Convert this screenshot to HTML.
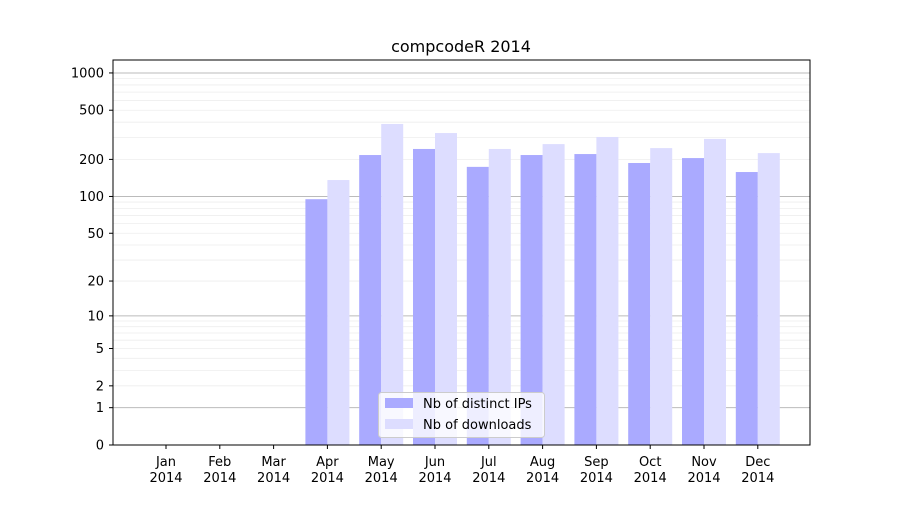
<!DOCTYPE html>
<html><head><style>
body{margin:0;background:#fff;}
text{font-family:"DejaVu Sans","Liberation Sans",sans-serif;font-size:13px;fill:#000;}
</style></head><body>
<svg id="s" width="900" height="500" xmlns="http://www.w3.org/2000/svg">
<rect width="900" height="500" fill="#fff"/>
<g id="grid"></g>
<g id="bars"></g>
<rect x="113" y="60" width="697" height="385" fill="none" stroke="#000" stroke-width="1"/>
<g id="ax"></g>
<text x="461" y="52" text-anchor="middle" style="font-size:16px">compcodeR 2014</text>
<rect x="378.5" y="392.5" width="166" height="45" rx="3" fill="#fff" fill-opacity="0.8" stroke="#ccc"/>
<rect x="385" y="398" width="28" height="10" fill="#aaaaff"/>
<text x="423" y="408">Nb of distinct IPs</text>
<rect x="385" y="419" width="28" height="10" fill="#ddddff"/>
<text x="423" y="429">Nb of downloads</text>
</svg>
<script>
var ns="http://www.w3.org/2000/svg";
function el(p,t,a,tx){var e=document.createElementNS(ns,t);for(var k in a)e.setAttribute(k,a[k]);if(tx!==undefined)e.textContent=tx;document.getElementById(p).appendChild(e);return e;}
function Y(v){return 445-124*Math.log10(v+1);}
for(var d=1;d<=1000;d*=10){for(var m=1;m<10;m++){var v=m*d;if(v>1300)break;var y=Y(v);
 el("grid","line",{x1:113,x2:810,y1:y,y2:y,stroke:m==1?"#bbb":"#eee","stroke-width":m==1?1:0.8});}}
var ticks=[0,1,2,5,10,20,50,100,200,500,1000];
ticks.forEach(function(v){var y=Y(v);el("ax","line",{x1:109,x2:113,y1:y,y2:y,stroke:"#000"});el("ax","text",{x:104,y:y+4.5,"text-anchor":"end"},v);});
var mon=["Jan","Feb","Mar","Apr","May","Jun","Jul","Aug","Sep","Oct","Nov","Dec"];
var ips=[0,0,0,95,217,243,174,217,221,187,205,158];
var dl=[0,0,0,136,387,327,243,266,304,247,293,225];
for(var i=0;i<12;i++){var c=166+i*53.8;
 el("ax","line",{x1:c,x2:c,y1:445,y2:449,stroke:"#000"});
 el("ax","text",{x:c,y:466,"text-anchor":"middle"},mon[i]);
 el("ax","text",{x:c,y:482,"text-anchor":"middle"},"2014");
 if(ips[i]>0){el("bars","rect",{x:c-22,y:Y(ips[i]),width:22,height:445-Y(ips[i]),fill:"#aaaaff"});
 el("bars","rect",{x:c,y:Y(dl[i]),width:22,height:445-Y(dl[i]),fill:"#ddddff"});}
}
</script>
</body></html>
